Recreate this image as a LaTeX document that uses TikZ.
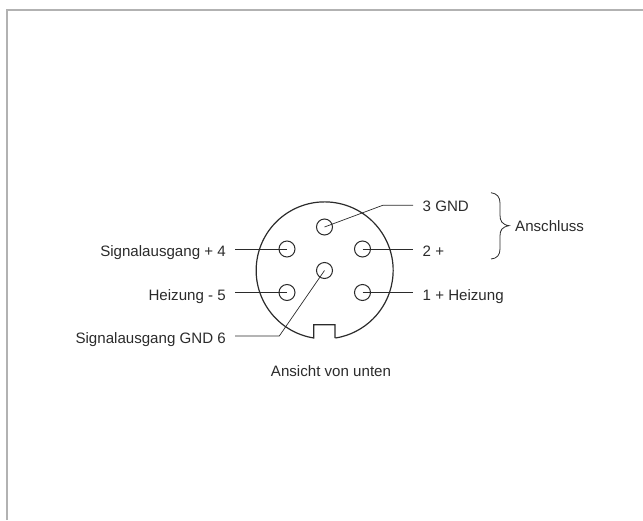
\documentclass[tikz,border=0pt]{standalone}
\usepackage{fontspec}
\setmainfont{Liberation Sans}
\definecolor{ink}{gray}{0.17}
\tikzset{
  lab/.style={inner sep=0pt,font=\fontsize{15.1}{17}\selectfont,text=ink},
  pin/.style={circle,draw=ink,line width=1pt,minimum size=16pt,inner sep=0pt,fill=none},
  wire/.style={draw=ink,line width=0.7pt},
  body/.style={draw=ink,line width=1.2pt}
}
\begin{document}
\begin{tikzpicture}[x=1pt,y=-1pt]
\useasboundingbox (0,0) rectangle (643,520);
\draw[draw=black!30,line width=2pt] (7,520) -- (7,10) -- (643,10);
% body
\coordinate (c) at (324.6,270.5);
\draw[body] (335,338) -- (335,324.7) -- (313.7,324.7) -- (313.7,338)
  arc[start angle=99.2,delta angle=341.6,radius=68.5];
\node[pin] (p3) at (324.5,227) {};
\node[pin] (p2) at (362.5,249) {};
\node[pin] (p4) at (287,249) {};
\node[pin] (p1) at (362.5,292.5) {};
\node[pin] (p5) at (287,292.5) {};
\node[pin] (p6) at (324.5,270.5) {};
\node[lab,anchor=base west] (t3) at (422.5,211.5) {3 GND};
\node[lab,anchor=base west] (t2) at (422.5,256) {2 +};
\node[lab,anchor=base west] (t1) at (422.5,300) {1 + Heizung};
\node[lab,anchor=base east] (t4) at (226,256) {Signalausgang + 4};
\node[lab,anchor=base east] (t5) at (226,300) {Heizung - 5};
\node[lab,anchor=base east] (t6) at (226,343) {Signalausgang GND 6};
\node[lab,anchor=base west] (ta) at (515,231.5) {Anschluss};
\node[lab,anchor=base] (tv) at (331,376) {Ansicht von unten};
\coordinate (w3) at (382.7,205.3);
\coordinate (w3e) at (413,205.3);
\coordinate (w2e) at (413,249);
\coordinate (w1e) at (413,292.5);
\coordinate (w4e) at (235,249);
\coordinate (w5e) at (235,292.5);
\coordinate (w6) at (279.3,336);
\coordinate (w6e) at (235,336);
\draw[wire] (p3.center) -- (w3) -- (w3e);
\draw[wire] (p2.center) -- (w2e);
\draw[wire] (p1.center) -- (w1e);
\draw[wire] (p4.center) -- (w4e);
\draw[wire] (p5.center) -- (w5e);
\draw[wire] (p6.center) -- (w6) -- (w6e);
\draw[wire,line width=0.8pt] (491,192.7) .. controls (497,193.5) and (500,197) .. (500,203) -- (500,215) .. controls (500,221) and (502,224.5) .. (509,225.7) .. controls (502,227) and (500,230) .. (500,236) -- (500,249) .. controls (500,255) and (497,258.5) .. (491,259);
\end{tikzpicture}
\end{document}
